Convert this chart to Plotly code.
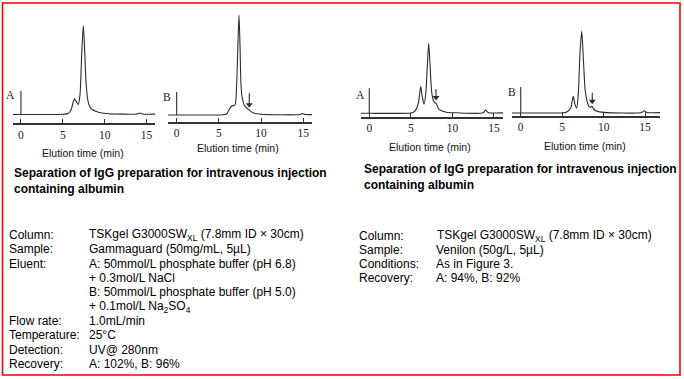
import plotly.graph_objects as go

W, H = 684, 379

# ---------------- data (time in min, absorbance in AU) ----------------
tick_vals = [0, 5, 10, 15]
tick_text = ["0", "5", "10", "15"]

a_left_time = [-0.95, 0, 5.0, 5.65, 6.0, 6.25, 6.4, 6.6, 6.85, 7.05, 7.25, 7.44, 7.6, 7.75, 7.95, 8.2, 8.5, 9.0, 9.5, 10.5, 13.8, 14.2, 14.5, 16.0]
a_left_abs = [0, 0, 0.003, 0.01, 0.05, 0.13, 0.157, 0.13, 0.10, 0.2, 0.6, 0.89, 0.65, 0.35, 0.16, 0.08, 0.05, 0.03, 0.017, 0.008, 0.005, 0.015, 0.005, 0.004]

b_left_time = [-1.03, 0, 5.5, 5.92, 6.2, 6.5, 6.9, 7.1, 7.25, 7.38, 7.5, 7.62, 7.75, 8.0, 8.3, 8.6, 9.05, 10.0, 14.6, 14.9, 15.2, 16.03]
b_left_abs = [0, 0, 0.003, 0.01, 0.05, 0.09, 0.10, 0.3, 0.7, 1.00, 0.7, 0.3, 0.18, 0.1, 0.07, 0.05, 0.023, 0.008, 0.005, 0.015, 0.005, 0.004]

a_right_time = [-1.03, 0, 5.0, 5.4, 5.7, 5.95, 6.19, 6.35, 6.59, 6.8, 7.0, 7.15, 7.3, 7.5, 7.7, 7.9, 8.05, 8.3, 8.5, 9.3, 10.5, 13.7, 14.0, 14.3, 16.09]
a_right_abs = [0, 0, 0.003, 0.015, 0.05, 0.12, 0.267, 0.18, 0.09, 0.2, 0.5, 0.70, 0.5, 0.22, 0.13, 0.105, 0.10, 0.05, 0.033, 0.01, 0.005, 0.005, 0.033, 0.008, 0.004]

b_right_time = [-1.09, 0, 5.2, 5.55, 6.03, 6.2, 6.35, 6.5, 6.75, 6.95, 7.15, 7.36, 7.55, 7.75, 7.96, 8.2, 8.4, 8.6, 8.8, 9.2, 10.0, 14.6, 14.9, 15.2, 16.8]
b_right_abs = [0, 0, 0.003, 0.01, 0.05, 0.12, 0.167, 0.10, 0.05, 0.2, 0.6, 0.817, 0.55, 0.25, 0.133, 0.07, 0.055, 0.067, 0.04, 0.017, 0.006, 0.005, 0.023, 0.006, 0.004]

injection_time = [0, 0, 0, 0]
injection_abs = [0.235, 0.23, 0.25, 0.26]

# peak-marker arrows: time, tip height and tail height (AU)
arrow_time = [None, 8.6, 8.03, 8.63]
arrow_tip = [None, 0.077, 0.133, 0.093]
arrow_tail = [None, 0.217, 0.243, 0.203]

panel_labels = ["A", "B", "A", "B"]
x_title = "Elution time (min)"

title_lines = ["Separation of IgG preparation for intravenous injection", "containing albumin"]

left_keys = ["Column:", "Sample:", "Eluent:", "", "", "", "Flow rate:", "Temperature:", "Detection:", "Recovery:"]
left_vals = [
    "TSKgel G3000SW<sub>XL</sub> (7.8mm ID × 30cm)",
    "Gammaguard (50mg/mL, 5µL)",
    "A: 50mmol/L phosphate buffer (pH 6.8)",
    "+ 0.3mol/L NaCl",
    "B: 50mmol/L phosphate buffer (pH 5.0)",
    "+ 0.1mol/L Na<sub>2</sub>SO<sub>4</sub>",
    "1.0mL/min",
    "25°C",
    "UV@ 280nm",
    "A: 102%, B: 96%",
]
right_keys = ["Column:", "Sample:", "Conditions:", "Recovery:"]
right_vals = [
    "TSKgel G3000SW<sub>XL</sub> (7.8mm ID × 30cm)",
    "Venilon (50g/L, 5µL)",
    "As in Figure 3.",
    "A: 94%, B: 92%",
]

series_time = [a_left_time, b_left_time, a_right_time, b_right_time]
series_abs = [a_left_abs, b_left_abs, a_right_abs, b_right_abs]

# ---------------- layout geometry (pixels) ----------------
x_px = [(13, 155), (168, 312), (360.7, 503), (511.7, 660)]
x_rng = [(-0.95, 16.0), (-1.03, 16.03), (-1.03, 16.09), (-1.09, 16.8)]
axis_y_px = [123, 121.7, 116.5, 115.7]
base_y_px = [114.5, 115, 113.3, 113]
top_px = 5
px_per_au = 100.0
label_pos = [(10.3, 95), (167, 96.7), (360, 95), (511.7, 91.7)]
xtitle_pos = [(83, 153), (238.3, 148), (430, 146.7), (585, 145.7)]

def px(x):
    return x / W

def py(y):
    return 1 - y / H

fig = go.Figure()
annotations = []
line_col = "#2b2b2b"

for i in range(4):
    n = "" if i == 0 else str(i + 1)
    xa, ya = "x" + n, "y" + n
    fig.add_trace(go.Scatter(x=series_time[i], y=series_abs[i], mode="lines",
                             line=dict(color=line_col, width=1.1, shape="spline", smoothing=0.7),
                             xaxis=xa, yaxis=ya, hoverinfo="skip"))
    fig.add_trace(go.Scatter(x=[injection_time[i], injection_time[i]], y=[0, injection_abs[i]], mode="lines",
                             line=dict(color=line_col, width=1.1),
                             xaxis=xa, yaxis=ya, hoverinfo="skip"))
    if arrow_time[i] is not None:
        fig.add_trace(go.Scatter(x=[arrow_time[i], arrow_time[i]], y=[arrow_tail[i], arrow_tip[i] + 0.03],
                                 mode="lines", line=dict(color=line_col, width=1.1),
                                 xaxis=xa, yaxis=ya, hoverinfo="skip"))
        fig.add_trace(go.Scatter(x=[arrow_time[i]], y=[arrow_tip[i] + 0.025], mode="markers",
                                 marker=dict(symbol="triangle-down", size=6, color=line_col),
                                 xaxis=xa, yaxis=ya, hoverinfo="skip"))
    y_bot = -(axis_y_px[i] - base_y_px[i]) / px_per_au
    y_top = (base_y_px[i] - top_px) / px_per_au
    fig.update_layout(**{
        "xaxis" + n: dict(domain=[px(x_px[i][0]), px(x_px[i][1])], range=list(x_rng[i]),
                          anchor=ya, showline=True, linecolor="#333", linewidth=1.6,
                          ticks="inside", ticklen=4, tickwidth=1, tickcolor="#333",
                          tickvals=tick_vals, ticktext=tick_text,
                          tickfont=dict(family="Liberation Serif", size=11.5, color="#222"),
                          showgrid=False, zeroline=False, fixedrange=True),
        "yaxis" + n: dict(domain=[py(axis_y_px[i]), py(top_px)], range=[y_bot, y_top],
                          anchor=xa, visible=False, fixedrange=True),
    })
    annotations.append(dict(xref="paper", yref="paper", x=px(label_pos[i][0]), y=py(label_pos[i][1]),
                            text=panel_labels[i], showarrow=False, xanchor="center", yanchor="middle",
                            font=dict(family="Liberation Serif", size=11.5, color="#222")))
    annotations.append(dict(xref="paper", yref="paper", x=px(xtitle_pos[i][0]), y=py(xtitle_pos[i][1]),
                            text=x_title, showarrow=False, xanchor="center", yanchor="middle",
                            font=dict(family="Liberation Sans", size=10.5, color="#111")))

# titles (two lines in one text block)
title_x = [11.7, 361.7]
title_y = [180.5, 176.5]
for k in range(2):
    annotations.append(dict(xref="paper", yref="paper", x=px(title_x[k]), y=py(title_y[k]),
                            text="<br>".join("<b>" + t + "</b>" for t in title_lines),
                            showarrow=False, xanchor="left", yanchor="middle", align="left",
                            font=dict(family="Liberation Sans", size=12, color="#000")))

# condition blocks
def add_block(keys, vals, xk, xv, y0, dy):
    for j, (k, v) in enumerate(zip(keys, vals)):
        yy = py(y0 + j * dy)
        if k:
            annotations.append(dict(xref="paper", yref="paper", x=px(xk), y=yy, text=k, showarrow=False,
                                    xanchor="left", yanchor="middle",
                                    font=dict(family="Liberation Sans", size=12, color="#000")))
        annotations.append(dict(xref="paper", yref="paper", x=px(xv), y=yy, text=v, showarrow=False,
                                xanchor="left", yanchor="middle",
                                font=dict(family="Liberation Sans", size=12, color="#000")))

add_block(left_keys, left_vals, 6.5, 86.5, 235, 14.33)
add_block(right_keys, right_vals, 356.5, 434.5, 236, 14.1)

fig.update_layout(
    width=W, height=H, margin=dict(l=0, r=0, t=0, b=0),
    paper_bgcolor="white", plot_bgcolor="rgba(0,0,0,0)", showlegend=False,
    annotations=annotations,
    shapes=[dict(type="rect", xref="paper", yref="paper", x0=px(2.5), x1=px(680), y0=py(375), y1=py(3),
                 line=dict(color="#ff0000", width=1.6))],
)

fig.write_html("out.html", config={"displayModeBar": False},
               post_script="document.body.style.margin='0px';document.body.style.overflow='hidden';")
